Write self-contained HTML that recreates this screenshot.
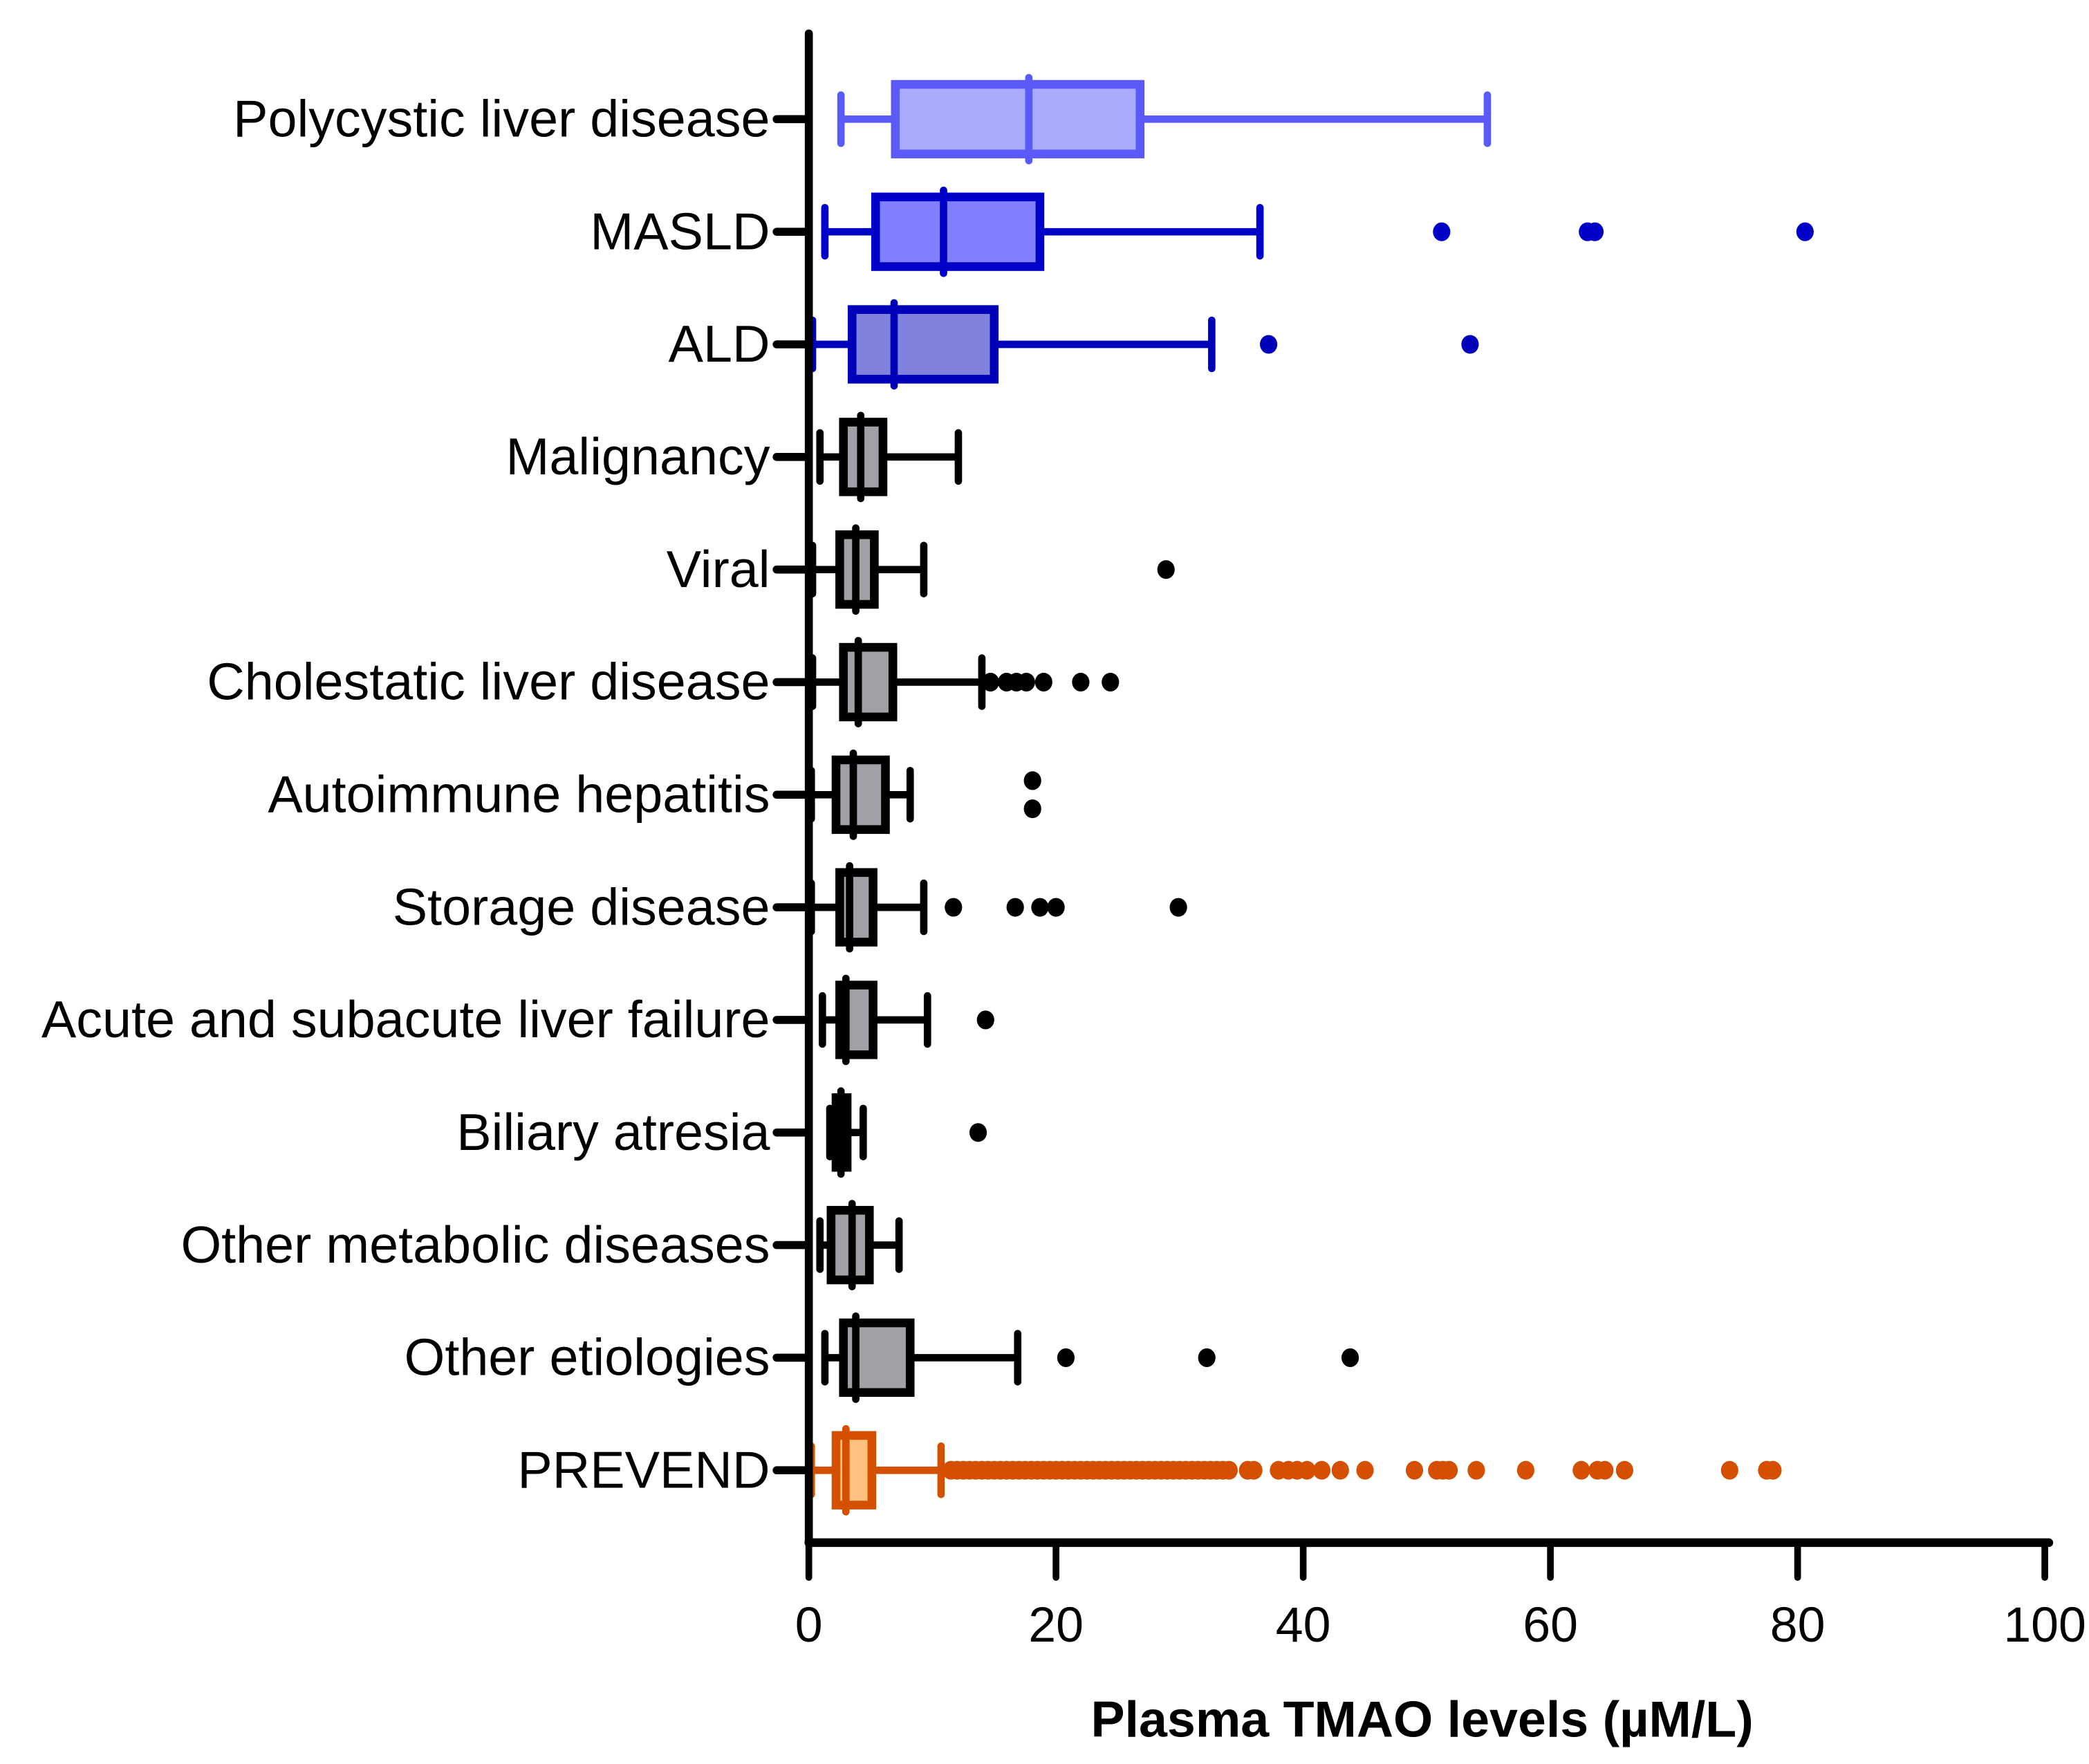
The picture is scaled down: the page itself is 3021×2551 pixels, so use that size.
<!DOCTYPE html>
<html><head><meta charset="utf-8"><style>
html,body{margin:0;padding:0;background:#fff;}
svg{display:block;}
text{font-family:"Liberation Sans",Arial,sans-serif;}
</style></head><body>
<svg id="chart" width="3021" height="2551" viewBox="0 0 1560 1317.3" preserveAspectRatio="none" xmlns="http://www.w3.org/2000/svg"></svg>
<script>
const categories = ["Polycystic liver disease","MASLD","ALD","Malignancy","Viral","Cholestatic liver disease","Autoimmune hepatitis","Storage disease","Acute and subacute liver failure","Biliary atresia","Other metabolic diseases","Other etiologies","PREVEND"];
const whiskerLow = [2.6,1.3,0.3,0.9,0.3,0.3,0.2,0.2,1.1,1.7,0.9,1.3,0.2];
const q1Values = [7.0,5.4,3.5,2.8,2.5,2.8,2.2,2.5,2.5,2.2,1.8,2.8,2.2];
const medianValues = [17.8,10.9,6.9,4.2,3.8,4.0,3.6,3.3,3.0,2.6,3.5,3.8,3.0];
const q3Values = [26.8,18.7,15.0,6.0,5.3,6.8,6.2,5.2,5.2,3.1,4.9,8.2,5.1];
const whiskerHigh = [54.9,36.5,32.6,12.1,9.3,14.0,8.2,9.3,9.6,4.4,7.3,16.9,10.7];
const outliers = [
  [],
  [51.2,63.0,63.6,80.6],
  [37.2,53.5],
  [],
  [28.9],
  [14.7,16.0,16.8,17.6,19.0,22.0,24.4],
  [18.1,18.1],
  [11.7,16.7,18.7,20.0,29.9],
  [14.3],
  [13.7],
  [],
  [20.8,32.2,43.8],
  [11.5,12,12.5,13,13.5,14,14.5,15,15.5,16,16.5,17,17.5,18,18.5,19,19.5,20,20.5,21,21.5,22,22.5,23,23.5,24,24.5,25,25.5,26,26.5,27,27.5,28,28.5,29,29.5,30,30.5,31,31.5,32,32.5,33,33.5,34,35.5,36,38,38.8,39.5,40.3,41.5,43,45,49,50.8,51.3,51.8,54,58,62.5,63.8,64.4,66,74.5,77.5,78]
];
const xTicks = [0,20,40,60,80,100];
const strokeColors = ["#5a5af8","#0000c8","#0000b8","#000","#000","#000","#000","#000","#000","#000","#000","#000","#d45000"];
const fillColors = ["#aaaafc","#8080ff","#8080dd","#a0a0a6","#a0a0a6","#a0a0a6","#a0a0a6","#a0a0a6","#a0a0a6","#a0a0a6","#a0a0a6","#a0a0a6","#ffc080"];

const NS="http://www.w3.org/2000/svg";
const svg=document.getElementById('chart');
const X0=604,X1=1527,Y0=89,DY=84.08;
function xs(v){return X0+(v/100)*(X1-X0);}
function ys(i){return Y0+i*DY;}
function mk(tag,attrs,parent){const e=document.createElementNS(NS,tag);for(const k in attrs)e.setAttribute(k,attrs[k]);(parent||svg).appendChild(e);return e;}

categories.forEach((c,i)=>{
  const y=ys(i),sc=strokeColors[i],fc=fillColors[i];
  const g=mk('g',{});
  
  
  const sw=5.5;
  const l=mk('line',{x1:xs(whiskerLow[i]),x2:xs(whiskerHigh[i]),y1:y,y2:y,stroke:sc,'stroke-width':sw},g);
  
  
  [whiskerLow[i],whiskerHigh[i]].forEach(v=>{
    const cap=mk('line',{x1:xs(v),x2:xs(v),y1:y-18,y2:y+18,stroke:sc,'stroke-width':sw,'stroke-linecap':'round'},g);
    
    
  });
  const r=mk('rect',{x:xs(q1Values[i]),y:y-26,width:xs(q3Values[i])-xs(q1Values[i]),height:52,fill:fc,stroke:sc,'stroke-width':6.5},g);
  
  
  const m=mk('line',{x1:xs(medianValues[i]),x2:xs(medianValues[i]),y1:y-31,y2:y+31,stroke:sc,'stroke-width':sw,'stroke-linecap':'round'},g);
  
  
  const seen={};
  outliers[i].forEach(v=>{
    const k=v.toFixed(2);seen[k]=(seen[k]||0)+1;
    let oy=y;
    const dup=outliers[i].filter(w=>w.toFixed(2)===k).length;
    if(dup>1)oy=y+(seen[k]===1?-10.5:10.5);
    const d=mk('ellipse',{cx:xs(v),cy:oy,rx:6.5,ry:7,fill:sc},g);
    
    
  });
  const t=mk('line',{x1:580,x2:604,y1:y,y2:y,stroke:'#000','stroke-width':6,'stroke-linecap':'round'});
  
  
  const lab=mk('text',{x:575,y:y+13,'text-anchor':'end','font-size':39,fill:'#000'});
  lab.textContent=c;
  
  
});

const ya=mk('line',{x1:X0,x2:X0,y1:25,y2:1152,stroke:'#000','stroke-width':6,'stroke-linecap':'round'});


const xa=mk('line',{x1:X0,x2:1530,y1:1152,y2:1152,stroke:'#000','stroke-width':6.5,'stroke-linecap':'round'});


xTicks.forEach(v=>{
  const tk=mk('line',{x1:xs(v),x2:xs(v),y1:1152,y2:1178,stroke:'#000','stroke-width':5,'stroke-linecap':'round'});
  
  
  const tl=mk('text',{x:xs(v),y:1226,'text-anchor':'middle','font-size':37,fill:'#000'});
  tl.textContent=String(v);
  
  
});
const title=mk('text',{x:1062,y:1297,'text-anchor':'middle','font-size':38,'font-weight':'bold',fill:'#000'});
title.textContent='Plasma TMAO levels (µM/L)';


</script>
</body></html>
